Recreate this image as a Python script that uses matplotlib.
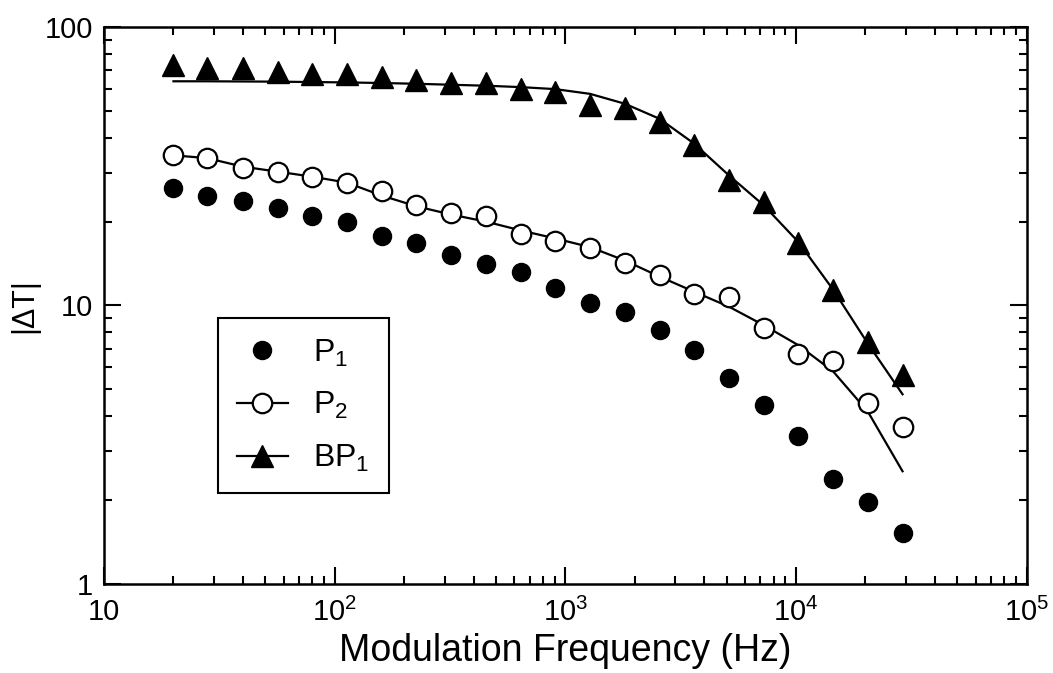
import math
import matplotlib
matplotlib.use('Agg')
import matplotlib.pyplot as plt
from matplotlib.lines import Line2D
from matplotlib.ticker import LogLocator, FuncFormatter, NullFormatter

plt.rcParams['font.family'] = ['Liberation Sans', 'DejaVu Sans']
plt.rcParams['mathtext.fontset'] = 'custom'
plt.rcParams['mathtext.rm'] = 'Liberation Sans'
plt.rcParams['mathtext.it'] = 'Liberation Sans:italic'
plt.rcParams['mathtext.bf'] = 'Liberation Sans:bold'

# ---- data ----
freq = [20, 28, 40, 57, 80, 113, 160, 226, 320, 453, 640, 905,
        1280, 1810, 2560, 3620, 5120, 7240, 10240, 14480, 20480, 28960]

p1 = [26.5, 24.8, 23.7, 22.3, 21.0, 20.0, 17.8, 16.7, 15.2, 14.1, 13.2, 11.6,
      10.2, 9.5, 8.15, 6.9, 5.5, 4.4, 3.4, 2.38, 1.97, 1.52]

p2 = [34.6, 33.8, 31.2, 30.1, 29.0, 27.6, 25.7, 22.9, 21.5, 21.0, 18.0, 17.1,
      16.1, 14.2, 12.9, 11.0, 10.7, 8.3, 6.7, 6.3, 4.46, 3.66]

bp1 = [73, 71, 71, 69, 68, 68, 66, 64.5, 63, 63, 60, 58.5,
       52.5, 51, 45.7, 37.8, 28.3, 23.6, 16.7, 11.4, 7.4, 5.65]

# fitted curves
p2_fit = [34.6, 33.8, 31.5, 30.2, 29.0, 27.6, 24.8, 22.7, 21.2, 20.0, 18.6, 17.4,
          16.2, 14.5, 12.7, 11.2, 9.9, 8.5, 7.2, 5.8, 4.16, 2.54]

bp1_fit = [63.8, 63.8, 63.7, 63.6, 63.4, 63.2, 62.9, 62.5, 62.0, 61.5, 60.8, 59.8,
           57.5, 53.0, 46.8, 38.1, 29.3, 22.9, 16.9, 11.4, 7.3, 4.8]

fig = plt.figure(figsize=(10.53, 6.73), dpi=100)
ax = fig.add_axes([0.0988, 0.1322, 0.8762, 0.8278])

ax.plot(freq, bp1_fit, color='k', lw=1.6, zorder=2)
ax.plot(freq, p2_fit, color='k', lw=1.6, zorder=2)

ax.plot(freq, p1, ls='none', marker='o', ms=13, color='k', zorder=3)
ax.plot(freq, p2, ls='none', marker='o', ms=14, mfc='white', mec='k', mew=1.6, zorder=3)
ax.plot(freq, bp1, ls='none', marker='^', ms=16, color='k', zorder=3)

ax.set_xscale('log')
ax.set_yscale('log')
ax.set_xlim(10, 1e5)
ax.set_ylim(1, 100)

def xfmt(v, pos):
    e = int(round(math.log10(v)))
    if e == 1:
        return '10'
    return r'$10^{%d}$' % e

ax.xaxis.set_major_locator(LogLocator(base=10, numticks=10))
ax.xaxis.set_major_formatter(FuncFormatter(xfmt))
ax.xaxis.set_minor_locator(LogLocator(base=10, subs=range(2, 10), numticks=20))
ax.xaxis.set_minor_formatter(NullFormatter())
ax.yaxis.set_major_locator(LogLocator(base=10, numticks=10))
ax.yaxis.set_major_formatter(FuncFormatter(lambda v, p: '%g' % v))
ax.yaxis.set_minor_locator(LogLocator(base=10, subs=range(2, 10), numticks=20))
ax.yaxis.set_minor_formatter(NullFormatter())

ax.tick_params(which='both', direction='in', top=True, right=True, width=1.5, color='k')
ax.tick_params(which='major', length=12, labelsize=21, pad=8)
ax.tick_params(axis='x', which='major', pad=10)
ax.tick_params(which='minor', length=6)
for s in ax.spines.values():
    s.set_linewidth(1.8)

ax.set_xlabel('Modulation Frequency (Hz)', fontsize=27, labelpad=4)
ax.set_ylabel('|ΔT|', fontsize=22, labelpad=4)

handles = [
    Line2D([], [], ls='none', marker='o', ms=13, color='k'),
    Line2D([], [], ls='-', lw=1.6, color='k', marker='o', ms=14, mfc='white', mec='k', mew=1.6),
    Line2D([], [], ls='-', lw=1.6, color='k', marker='^', ms=16),
]
labels = [r'P$_1$', r'P$_2$', r'BP$_1$']
leg = ax.legend(handles, labels, loc='upper left', bbox_to_anchor=(0.123, 0.477),
                fontsize=23, frameon=True, fancybox=False, edgecolor='k',
                handlelength=1.6, labelspacing=0.68, borderpad=0.6,
                handletextpad=0.8, borderaxespad=0)
leg.get_frame().set_linewidth(1.5)
leg.get_frame().set_alpha(1)

fig.savefig('out.png', dpi=100)
